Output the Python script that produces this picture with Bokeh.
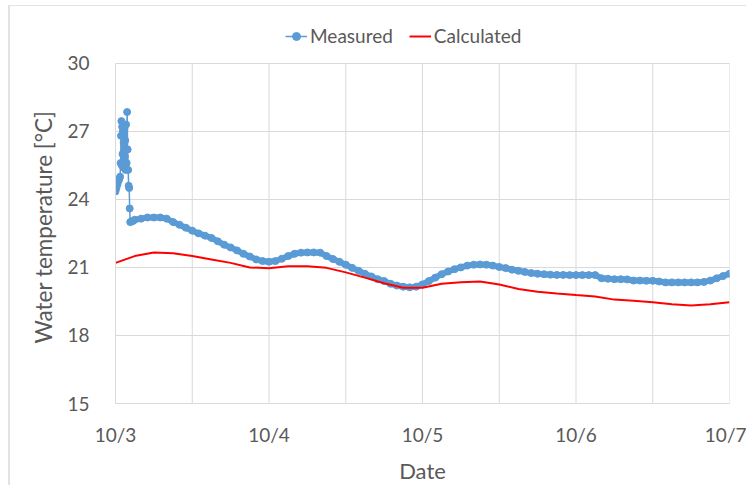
from bokeh.plotting import figure
from bokeh.models import FixedTicker, Legend, LegendItem, ColumnDataSource, Title
from bokeh.embed import file_html
from bokeh.resources import INLINE

# ---- data (hours since 10/3 00:00, water temperature in degC) ----
spike_hours = [0.0, 0.15, 0.3, 0.45, 0.6, 0.72, 0.8, 0.86, 0.92, 0.98, 1.04, 1.1, 1.16,
               1.22, 1.28, 1.34, 1.4, 1.46, 1.52, 1.58, 1.66, 1.74, 1.82, 1.9, 1.98,
               2.06, 2.14, 2.22, 2.3, 2.5, 2.75]
spike_temp = [24.35, 24.5, 24.65, 24.8, 24.9, 25.0, 25.6, 26.8, 27.45, 25.5, 27.2, 26.0, 27.0,
              25.4, 26.5, 25.8, 27.1, 25.9, 26.6, 25.3, 27.3, 25.6, 27.85, 26.2, 25.3,
              24.6, 24.5, 23.6, 23.0, 23.02, 23.05]

hourly_hours = list(range(3, 97))
hourly_temp = [23.1, 23.15, 23.2, 23.2, 23.2, 23.15, 23.0, 22.88, 22.75, 22.62,
               22.5, 22.4, 22.3, 22.15, 22.0, 21.88, 21.75, 21.6, 21.48, 21.35,
               21.28, 21.25, 21.28, 21.38, 21.5, 21.6, 21.65, 21.66, 21.66, 21.65,
               21.5, 21.37, 21.25, 21.12, 20.98, 20.85, 20.72, 20.6, 20.48, 20.4,
               20.28, 20.2, 20.15, 20.12, 20.15, 20.25, 20.4, 20.55, 20.7, 20.82,
               20.92, 21.0, 21.08, 21.12, 21.13, 21.12, 21.08, 21.02, 20.97, 20.9,
               20.85, 20.8, 20.75, 20.72, 20.7, 20.68, 20.67, 20.67, 20.66, 20.66,
               20.66, 20.66, 20.66, 20.52, 20.5, 20.48, 20.48, 20.47, 20.42, 20.42,
               20.41, 20.41, 20.38, 20.34, 20.34, 20.34, 20.34, 20.34, 20.34, 20.36,
               20.42, 20.52, 20.62, 20.72]

calc_hours = [0, 3, 6, 9, 12, 15, 18, 21, 24, 27, 30, 33, 36, 39, 42, 45, 48,
              51, 54, 57, 60, 63, 66, 69, 72, 75, 78, 81, 84, 87, 90, 93, 96]
calc_temp = [21.2, 21.5, 21.66, 21.62, 21.5, 21.35, 21.2, 21.0, 20.96, 21.05, 21.05,
             20.98, 20.78, 20.55, 20.3, 20.1, 20.1, 20.28, 20.35, 20.38, 20.25, 20.05,
             19.93, 19.85, 19.78, 19.72, 19.58, 19.53, 19.46, 19.38, 19.32, 19.38, 19.46]

day_ticks = [0, 1, 2, 3, 4]
day_labels = ["10/3", "10/4", "10/5", "10/6", "10/7"]
temp_ticks = [15, 18, 21, 24, 27, 30]
vgrid_days = [0, 0.5, 1, 1.5, 2, 2.5, 3, 3.5, 4]

meas_x = [h / 24 for h in spike_hours + hourly_hours]
meas_y = spike_temp + hourly_temp
band_x = [h / 24 for h in hourly_hours]
calc_x = [h / 24 for h in calc_hours]

FONT = "Lato"
TXT = "#595959"
GRID = "#d9d9d9"
BLUE = "#5b9bd5"

Y_LO, Y_HI = temp_ticks[0], temp_ticks[-1]
# frame extended above 30 so the legend can sit inside it (342 px = 15 degC)
Y_TOP = Y_LO + 385 / 342 * (Y_HI - Y_LO)

p = figure(width=738, height=480, x_range=(day_ticks[0], day_ticks[-1]), y_range=(Y_LO, Y_TOP),
           output_backend="svg", toolbar_location=None,
           min_border_left=105, min_border_right=19, min_border_top=14, min_border_bottom=81)
p.outline_line_color = None
p.styles = {"margin-left": "8px", "margin-top": "5px",
            "border-left": "2px solid #e3e3e3", "border-top": "1px solid #e3e3e3"}

# vertical gridlines limited to the 15-30 band
p.segment(x0=vgrid_days, x1=vgrid_days, y0=[Y_LO] * len(vgrid_days), y1=[Y_HI] * len(vgrid_days),
          line_color=GRID, line_width=1)
p.xgrid.visible = False
p.ygrid.ticker = FixedTicker(ticks=temp_ticks)
p.ygrid.grid_line_color = GRID
p.ygrid.grid_line_width = 1

src_m = ColumnDataSource(dict(x=meas_x, y=meas_y))
src_b = ColumnDataSource(dict(x=band_x, y=hourly_temp))
src_c = ColumnDataSource(dict(x=calc_x, y=calc_temp))

p.line("x", "y", source=src_b, line_color=BLUE, line_width=6)
r_mline = p.line("x", "y", source=src_m, line_color=BLUE, line_width=1.5)
r_mpts = p.scatter("x", "y", source=src_m, size=7, fill_color=BLUE, line_color=BLUE)
r_c = p.line("x", "y", source=src_c, line_color="#ff0000", line_width=2)

p.xaxis.ticker = FixedTicker(ticks=day_ticks)
p.xaxis.major_label_overrides = {t: l for t, l in zip(day_ticks, day_labels)}
p.yaxis.ticker = FixedTicker(ticks=temp_ticks)
p.yaxis.bounds = (Y_LO, Y_HI)

for ax in (p.xaxis, p.yaxis):
    ax.axis_line_color = GRID
    ax.major_tick_line_color = None
    ax.minor_tick_line_color = None
    ax.major_label_text_font = FONT
    ax.major_label_text_font_size = "19px"
    ax.major_label_text_color = TXT
    ax.axis_label_text_font = FONT
    ax.axis_label_text_font_size = "22px"
    ax.axis_label_text_color = TXT
    ax.axis_label_text_font_style = "normal"

p.xaxis.major_label_standoff = 13
p.yaxis.major_label_standoff = 20
p.xaxis.axis_label = "Date"
p.xaxis.axis_label_standoff = 8

ytitle = Title(text="Water temperature [°C]", align="left", offset=60,
               text_font=FONT, text_font_size="22.5px", text_color=TXT,
               text_font_style="normal", standoff=16)
p.add_layout(ytitle, "left")

legend = Legend(items=[LegendItem(label="Measured", renderers=[r_mline, r_mpts]),
                       LegendItem(label="Calculated", renderers=[r_c])],
                orientation="horizontal", location=(170, 356),
                label_text_font=FONT, label_text_font_size="19px", label_text_color=TXT,
                border_line_color=None, background_fill_alpha=0,
                glyph_width=22, spacing=16, label_standoff=3, padding=2, margin=0)
p.add_layout(legend, "center")

open("out.html", "w").write(file_html(p, INLINE))
